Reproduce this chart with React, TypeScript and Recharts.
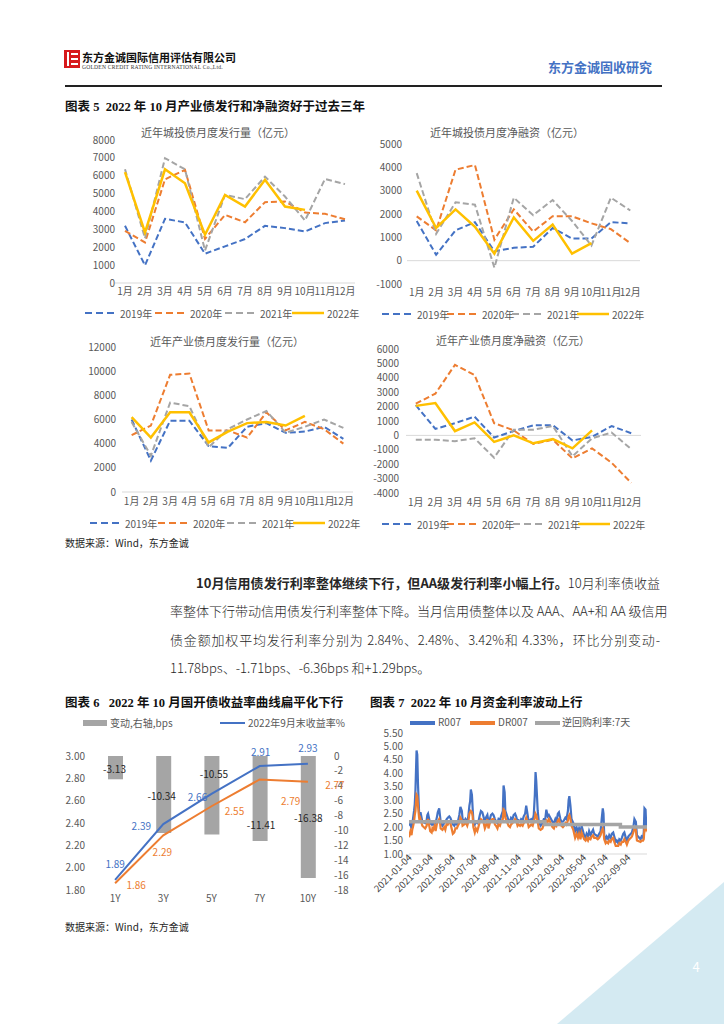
import React from 'react';
import { LineChart, Line, XAxis, YAxis, ReferenceLine, ComposedChart, Bar, LabelList } from 'recharts';

const MONTHS = ['1月', '2月', '3月', '4月', '5月', '6月', '7月', '8月', '9月', '10月', '11月', '12月'];
const YEARS = ['2019年', '2020年', '2021年', '2022年'];

const ctIssue2019 = [3200, 990, 3590, 3390, 1640, 2050, 2460, 3200, 3070, 2880, 3350, 3500];
const ctIssue2020 = [2920, 2270, 5800, 6330, 2470, 3810, 3400, 4520, 4560, 3940, 3870, 3570];
const ctIssue2021 = [6360, 2500, 6980, 6360, 1820, 4930, 4690, 5950, 4840, 3500, 5820, 5530];
const ctIssue2022 = [6200, 2830, 6360, 5580, 2700, 4930, 4280, 5770, 4280, 4090];

const ctNet2019 = [1700, 250, 1300, 1650, 400, 550, 600, 1400, 950, 950, 1650, 1600];
const ctNet2020 = [1900, 1300, 3900, 4100, 900, 2200, 1250, 1900, 1900, 1600, 1350, 750];
const ctNet2021 = [3750, 1150, 2500, 2400, -300, 2700, 1950, 2600, 1700, 650, 2700, 2150];
const ctNet2022 = [3000, 1400, 2200, 1450, 300, 1850, 850, 1550, 300, 750];

const indIssue2019 = [6000, 2600, 5900, 5900, 3800, 3650, 5400, 5700, 4900, 5000, 5400, 4400];
const indIssue2020 = [4700, 5500, 9700, 9800, 5100, 5100, 4500, 6600, 5100, 5800, 5200, 4000];
const indIssue2021 = [5800, 3000, 7400, 7100, 3700, 5200, 6000, 6700, 4900, 5400, 6000, 5300];
const indIssue2022 = [6200, 4500, 6600, 6600, 4100, 5000, 5700, 5800, 5500, 6300];

const indNet2019 = [2100, 450, 850, 1300, -150, 300, 700, 700, -350, -100, 650, 150];
const indNet2020 = [2200, 2900, 4900, 4200, 850, 350, -600, -300, -1600, -900, -1900, -3300];
const indNet2021 = [-300, -300, -400, -200, -1550, 400, 400, 650, -1450, -200, 200, -950];
const indNet2022 = [2050, 2250, 300, 900, -450, 0, -550, -250, -900, 350];

const TENORS = ['1Y', '3Y', '5Y', '7Y', '10Y'];
const yieldSep = [1.89, 2.39, 2.66, 2.91, 2.93];
const yieldOct = [1.86, 2.29, 2.55, 2.79, 2.77];
const changeBps = [-3.13, -10.34, -10.55, -11.41, -16.38];

const fundDates = [
  '2021-01-04', '2021-01-06', '2021-01-08', '2021-01-11', '2021-01-13', '2021-01-15', '2021-01-18', '2021-01-20', '2021-01-22', '2021-01-25',
  '2021-01-27', '2021-01-29', '2021-02-01', '2021-02-03', '2021-02-05', '2021-02-08', '2021-02-10', '2021-02-18', '2021-02-22', '2021-02-24',
  '2021-02-26', '2021-03-02', '2021-03-04', '2021-03-08', '2021-03-10', '2021-03-12', '2021-03-16', '2021-03-19', '2021-03-23', '2021-03-25',
  '2021-03-29', '2021-03-31', '2021-04-02', '2021-04-07', '2021-04-12', '2021-04-15', '2021-04-19', '2021-04-22', '2021-04-26', '2021-04-29',
  '2021-05-06', '2021-05-10', '2021-05-13', '2021-05-17', '2021-05-20', '2021-05-24', '2021-05-27', '2021-05-31', '2021-06-02', '2021-06-07',
  '2021-06-10', '2021-06-15', '2021-06-18', '2021-06-21', '2021-06-23', '2021-06-25', '2021-06-28', '2021-06-30', '2021-07-02', '2021-07-06',
  '2021-07-09', '2021-07-13', '2021-07-16', '2021-07-20', '2021-07-23', '2021-07-27', '2021-07-30', '2021-08-03', '2021-08-06', '2021-08-10',
  '2021-08-13', '2021-08-17', '2021-08-20', '2021-08-24', '2021-08-27', '2021-08-31', '2021-09-03', '2021-09-07', '2021-09-10', '2021-09-14',
  '2021-09-17', '2021-09-22', '2021-09-24', '2021-09-27', '2021-09-29', '2021-10-08', '2021-10-12', '2021-10-15', '2021-10-19', '2021-10-22',
  '2021-10-26', '2021-10-29', '2021-11-02', '2021-11-05', '2021-11-09', '2021-11-12', '2021-11-16', '2021-11-19', '2021-11-23', '2021-11-26',
  '2021-11-30', '2021-12-03', '2021-12-07', '2021-12-10', '2021-12-14', '2021-12-17', '2021-12-20', '2021-12-22', '2021-12-24', '2021-12-28',
  '2021-12-31', '2022-01-05', '2022-01-10', '2022-01-14', '2022-01-18', '2022-01-21', '2022-01-25', '2022-01-28', '2022-02-07', '2022-02-11',
  '2022-02-15', '2022-02-18', '2022-02-22', '2022-02-25', '2022-03-01', '2022-03-04', '2022-03-08', '2022-03-11', '2022-03-15', '2022-03-18',
  '2022-03-22', '2022-03-24', '2022-03-26', '2022-03-29', '2022-04-01', '2022-04-06', '2022-04-11', '2022-04-15', '2022-04-19', '2022-04-22',
  '2022-04-26', '2022-04-29', '2022-05-06', '2022-05-10', '2022-05-13', '2022-05-17', '2022-05-20', '2022-05-24', '2022-05-27', '2022-05-31',
  '2022-06-03', '2022-06-08', '2022-06-13', '2022-06-17', '2022-06-21', '2022-06-24', '2022-06-27', '2022-06-29', '2022-07-01', '2022-07-05',
  '2022-07-08', '2022-07-12', '2022-07-15', '2022-07-19', '2022-07-22', '2022-07-26', '2022-07-29', '2022-08-02', '2022-08-05', '2022-08-09',
  '2022-08-12', '2022-08-16', '2022-08-19', '2022-08-23', '2022-08-26', '2022-08-30', '2022-09-02', '2022-09-06', '2022-09-09', '2022-09-13',
  '2022-09-16', '2022-09-20', '2022-09-23', '2022-09-27', '2022-09-30', '2022-10-10', '2022-10-13', '2022-10-17', '2022-10-19', '2022-10-21',
  '2022-10-24', '2022-10-26', '2022-10-28',
];
const r007 = [
  2.05, 2.2, 2.1, 1.95, 2.1, 2.3, 2.6, 2.85, 3.4, 4.85,
  4.7, 3.6, 2.55, 2.45, 2.55, 2.35, 2.2, 2.15, 2.25, 2.45,
  2.5, 2.25, 2.15, 2.1, 2.15, 2.1, 2.2, 2.15, 2.4, 2.55,
  2.7, 2.45, 2.2, 2.05, 2.15, 2.2, 2.3, 2.35, 2.4, 2.35,
  2.1, 2.05, 2.15, 2.1, 2.2, 2.45, 2.75, 2.6, 2.3, 2.2,
  2.3, 2.2, 2.4, 2.8, 2.95, 3.4, 3.2, 2.7, 2.25, 2.1,
  2.2, 2.15, 2.2, 2.45, 2.6, 2.55, 2.4, 2.15, 2.35, 2.45,
  2.2, 2.3, 2.45, 2.5, 2.45, 2.3, 2.2, 2.15, 2.3, 2.25,
  2.4, 2.6, 3.55, 3.3, 2.6, 2.25, 2.2, 2.35, 2.3, 2.45,
  2.5, 2.4, 2.2, 2.25, 2.2, 2.3, 2.25, 2.4, 2.5, 2.8,
  2.45, 2.2, 2.25, 2.3, 2.25, 2.45, 3.2, 4.05, 3.7, 2.6,
  2.2, 2.05, 2.15, 2.3, 2.3, 2.65, 2.4, 2.45, 2.2, 2.15,
  2.3, 2.2, 2.5, 2.55, 2.3, 2.2, 2.2, 2.25, 2.35, 2.3,
  2.6, 3.0, 3.15, 2.8, 2.3, 2.15, 1.85, 2.0, 1.8, 1.95,
  1.75, 2.05, 1.7, 1.6, 1.75, 1.65, 1.85, 1.7, 1.8, 1.9,
  1.75, 1.7, 1.65, 1.75, 1.85, 2.3, 2.7, 2.5, 1.7, 1.55,
  1.65, 1.55, 1.7, 1.6, 1.75, 1.8, 1.65, 1.45, 1.5, 1.4,
  1.55, 1.5, 1.6, 1.75, 1.8, 1.6, 1.5, 1.65, 1.7, 1.75,
  1.8, 2.0, 2.3, 2.2, 1.7, 1.55, 1.65, 1.6, 1.8, 2.7,
  2.65, 2.0, 2.05,
];
const dr007 = [
  1.62, 1.75, 1.85, 1.7, 1.9, 2.0, 2.2, 2.45, 2.6, 3.2,
  3.15, 2.8, 2.35, 2.2, 2.3, 2.15, 2.05, 1.95, 2.05, 2.2,
  2.3, 2.0, 1.85, 1.8, 1.95, 1.9, 2.05, 1.85, 2.15, 2.2,
  2.3, 2.2, 1.95, 1.9, 2.0, 1.9, 2.15, 2.1, 2.2, 2.15,
  1.75, 1.8, 1.95, 1.95, 2.05, 2.15, 2.35, 2.25, 2.05, 2.1,
  2.2, 2.05, 2.2, 2.5, 2.55, 2.6, 2.55, 2.4, 2.0, 1.8,
  1.95, 1.85, 2.0, 2.2, 2.3, 2.25, 2.2, 1.95, 2.05, 2.3,
  1.95, 2.15, 2.25, 2.3, 2.3, 2.1, 2.05, 1.95, 2.1, 2.05,
  2.2, 2.3, 2.65, 2.6, 2.35, 2.05, 2.0, 2.1, 2.15, 2.2,
  2.3, 2.25, 2.05, 2.1, 2.05, 2.1, 2.05, 2.15, 2.2, 2.35,
  2.2, 2.0, 2.05, 2.1, 2.05, 2.2, 2.35, 2.5, 2.45, 2.2,
  1.95, 1.9, 1.95, 2.1, 2.15, 2.25, 2.2, 2.3, 2.0, 1.95,
  2.1, 2.05, 2.25, 2.3, 2.1, 2.05, 2.0, 2.05, 2.15, 2.1,
  2.25, 2.4, 2.45, 2.3, 2.05, 1.9, 1.6, 1.75, 1.6, 1.75,
  1.55, 1.8, 1.55, 1.5, 1.6, 1.5, 1.6, 1.55, 1.65, 1.7,
  1.6, 1.6, 1.55, 1.6, 1.7, 1.85, 1.95, 1.85, 1.55, 1.4,
  1.45, 1.4, 1.5, 1.45, 1.55, 1.6, 1.45, 1.3, 1.3, 1.3,
  1.4, 1.35, 1.45, 1.45, 1.55, 1.45, 1.35, 1.5, 1.55, 1.6,
  1.65, 1.8, 1.95, 1.9, 1.5, 1.45, 1.5, 1.5, 1.55, 1.95,
  2.0, 1.9, 1.95,
];
const repoDates = ['2021-01-04', '2022-01-17', '2022-08-15', '2022-10-28'];
const repoRates = [2.2, 2.1, 2.0, 2.0];
const fundTickDates = ['2021-01-04', '2021-03-04', '2021-05-04', '2021-07-04', '2021-09-04', '2021-11-04', '2022-01-04', '2022-03-04', '2022-05-04', '2022-07-04', '2022-09-04'];

const BLUE = '#4472c4';
const ORANGE = '#ed7d31';
const GRAY = '#a5a5a5';
const YELLOW = '#ffc000';
const AXIS_TXT = '#595959';
const FONT = '"Noto Sans CJK SC", "Noto Sans", sans-serif';

function monthData(a: number[], b: number[], c: number[], d: number[]) {
  return MONTHS.map((m, i) => ({ m, y2019: a[i], y2020: b[i], y2021: c[i], y2022: d[i] }));
}

type Rect = { l: number; r: number; t: number; b: number };

function MonthChart(props: { rect: Rect; domain: [number, number]; ticks: number[]; data: any[]; gapX: number; gapY: number }) {
  const { rect, domain, ticks, data, gapX, gapY } = props;
  const YW = 50, XH = 22, MT = 8, MR = 22;
  const left = rect.l - YW;
  const top = rect.t - MT;
  const width = rect.r + MR - left;
  const height = rect.b + XH - top;
  const half = (rect.r - rect.l) / MONTHS.length / 2;
  const tickStyle = { fontSize: 10, fill: AXIS_TXT, fontFamily: FONT };
  return (
    <div style={{ position: 'absolute', left, top }}>
      <LineChart width={width} height={height} data={data} margin={{ top: MT, right: MR, bottom: 0, left: 0 }}>
        <XAxis dataKey="m" height={XH} padding={{ left: half, right: half }} axisLine={false} tickLine={false} tickSize={0} tickMargin={gapY} interval={0} tick={tickStyle} />
        <YAxis width={YW} domain={domain} ticks={ticks} axisLine={false} tickLine={false} tickSize={0} tickMargin={gapX} interval={0} tick={tickStyle} />
        <ReferenceLine y={0} stroke="#d9d9d9" strokeWidth={1} />
        <Line dataKey="y2019" stroke={BLUE} strokeWidth={2} strokeDasharray="6 3" dot={false} isAnimationActive={false} />
        <Line dataKey="y2020" stroke={ORANGE} strokeWidth={2} strokeDasharray="6 3" dot={false} isAnimationActive={false} />
        <Line dataKey="y2021" stroke={GRAY} strokeWidth={2} strokeDasharray="6 3" dot={false} isAnimationActive={false} />
        <Line dataKey="y2022" stroke={YELLOW} strokeWidth={2.5} dot={false} isAnimationActive={false} />
      </LineChart>
    </div>
  );
}

function YearLegend(props: { xs: number[]; y: number }) {
  const colors = [BLUE, ORANGE, GRAY, YELLOW];
  return (
    <>
      {YEARS.map((name, i) => (
        <div key={name} style={{ position: 'absolute', left: props.xs[i], top: props.y - 7, height: 14, display: 'flex', alignItems: 'center', whiteSpace: 'nowrap' }}>
          <svg width={32} height={6} style={{ display: 'block' }}>
            <line x1={0} y1={3} x2={32} y2={3} stroke={colors[i]} strokeWidth={i === 3 ? 2.5 : 2} strokeDasharray={i === 3 ? undefined : '7 4'} />
          </svg>
          <span style={{ marginLeft: 3, fontSize: 10, color: AXIS_TXT, fontFamily: FONT }}>{name}</span>
        </div>
      ))}
    </>
  );
}

function ChartTitle(props: { text: string; cx: number; cy: number }) {
  return (
    <div style={{ position: 'absolute', left: props.cx - 100, width: 200, top: props.cy - 8, lineHeight: '16px', textAlign: 'center', fontSize: 11, color: AXIS_TXT, fontFamily: FONT, whiteSpace: 'nowrap' }}>
      {props.text}
    </div>
  );
}

const barLabelOffset = [[-1, 1], [-2, 1], [2, -22], [1, 26], [0, 1]];
const sepLabelOffset = [[0, -16], [-22, 1], [-14, 3], [1, -15], [0, -16]];
const octLabelOffset = [[21, 1], [-1, 16], [23, 4], [31, 21], [27, 3]];

function makeLineLabel(color: string, offsets: number[][]) {
  return (p: any) => {
    const o = offsets[p.index] || [0, 0];
    return (
      <text x={p.x + o[0]} y={p.y + o[1]} textAnchor="middle" dominantBaseline="central" fontSize={10} fill={color} fontFamily={FONT}>
        {Number(p.value).toFixed(2)}
      </text>
    );
  };
}

const barLabel = (p: any) => {
  const o = barLabelOffset[p.index] || [0, 0];
  const cx = p.x + p.width / 2;
  const cy = p.y + p.height / 2;
  return (
    <text x={cx + o[0]} y={cy + o[1]} textAnchor="middle" dominantBaseline="central" fontSize={10} fill="#262626" fontFamily={FONT}>
      {Number(p.value).toFixed(2)}
    </text>
  );
};

function CurveChart() {
  const rect = { l: 91, r: 332, t: 756, b: 890 };
  const LW = 40, RW = 36, XH = 22, MT = 22;
  const left = rect.l - LW;
  const top = rect.t - MT;
  const width = rect.r + RW - left;
  const height = rect.b + XH - top;
  const data = TENORS.map((t, i) => ({ t, sep: yieldSep[i], oct: yieldOct[i], chg: changeBps[i] }));
  const tickStyle = { fontSize: 10, fill: AXIS_TXT, fontFamily: FONT };
  return (
    <div style={{ position: 'absolute', left, top }}>
      <ComposedChart width={width} height={height} data={data} margin={{ top: MT, right: 0, bottom: 0, left: 0 }}>
        <XAxis dataKey="t" height={XH} axisLine={false} tickLine={false} tickSize={0} tickMargin={5} interval={0} tick={tickStyle} />
        <YAxis yAxisId="left" width={LW} domain={[1.8, 3.0]} ticks={[1.8, 2.0, 2.2, 2.4, 2.6, 2.8, 3.0]} tickFormatter={(v: number) => v.toFixed(2)} axisLine={false} tickLine={false} tickSize={0} tickMargin={6} interval={0} tick={tickStyle} />
        <YAxis yAxisId="right" orientation="right" width={RW} domain={[-18, 0]} ticks={[0, -2, -4, -6, -8, -10, -12, -14, -16, -18]} axisLine={false} tickLine={false} tickSize={0} tickMargin={2} interval={0} tick={tickStyle} />
        <Bar yAxisId="right" dataKey="chg" fill={GRAY} barSize={15} isAnimationActive={false}>
          <LabelList dataKey="chg" content={barLabel} />
        </Bar>
        <Line yAxisId="left" dataKey="sep" stroke={BLUE} strokeWidth={2} dot={false} isAnimationActive={false}>
          <LabelList dataKey="sep" content={makeLineLabel(BLUE, sepLabelOffset)} />
        </Line>
        <Line yAxisId="left" dataKey="oct" stroke={ORANGE} strokeWidth={2} dot={false} isAnimationActive={false}>
          <LabelList dataKey="oct" content={makeLineLabel(ORANGE, octLabelOffset)} />
        </Line>
      </ComposedChart>
    </div>
  );
}

const DateTick = (p: any) => {
  const { x, y, payload } = p;
  const s = new Date(payload.value).toISOString().slice(0, 10);
  return (
    <text x={x} y={y} dx={3} dy={2} textAnchor="end" fontSize={9.5} fill="#404040" fontFamily={FONT} transform={`rotate(-45 ${x} ${y})`}>
      {s}
    </text>
  );
};

function FundChart() {
  const rect = { l: 409, r: 647, t: 733, b: 854 };
  const YW = 42, XH = 62, MT = 10, MR = 6;
  const left = rect.l - YW;
  const top = rect.t - MT;
  const width = rect.r + MR - left;
  const height = rect.b + XH - top;
  const data = fundDates.map((d, i) => ({ t: Date.parse(d), r: r007[i], dr: dr007[i] }));
  const repo = repoDates.map((d, i) => ({ t: Date.parse(d), repo: repoRates[i] }));
  const ticks = fundTickDates.map((d) => Date.parse(d));
  const domain = [Date.parse(fundDates[0]), Date.parse(fundDates[fundDates.length - 1])];
  const tickStyle = { fontSize: 10, fill: AXIS_TXT, fontFamily: FONT };
  return (
    <div style={{ position: 'absolute', left, top }}>
      <ComposedChart width={width} height={height} data={data} margin={{ top: MT, right: MR, bottom: 0, left: 0 }}>
        <XAxis dataKey="t" type="number" domain={domain} ticks={ticks} height={XH} axisLine={{ stroke: '#d9d9d9' }} tickLine={{ stroke: '#d9d9d9' }} tickSize={3} tickMargin={2} interval={0} tick={<DateTick />} allowDataOverflow />
        <YAxis width={YW} domain={[1, 5.5]} ticks={[1, 1.5, 2, 2.5, 3, 3.5, 4, 4.5, 5, 5.5]} tickFormatter={(v: number) => v.toFixed(2)} axisLine={false} tickLine={false} tickSize={0} tickMargin={6} interval={0} tick={tickStyle} />
        <Line dataKey="r" stroke={BLUE} strokeWidth={2.2} dot={false} isAnimationActive={false} />
        <Line dataKey="dr" stroke={ORANGE} strokeWidth={2.2} dot={false} isAnimationActive={false} />
        <Line data={repo} dataKey="repo" type="stepAfter" stroke={GRAY} strokeWidth={3.5} dot={false} isAnimationActive={false} />
      </ComposedChart>
    </div>
  );
}

function FigTitle(props: { text: string; x: number; y: number }) {
  return (
    <div style={{ position: 'absolute', left: props.x, top: props.y - 9, lineHeight: '18px', fontSize: 12.5, fontWeight: 700, color: '#111', fontFamily: '"Liberation Serif", "Noto Sans CJK SC", serif', whiteSpace: 'pre' }}>
      {props.text}
    </div>
  );
}

function Source(props: { y: number }) {
  return (
    <div style={{ position: 'absolute', left: 65, top: props.y - 8, lineHeight: '16px', fontSize: 10, color: '#262626', fontFamily: FONT }}>
      数据来源：Wind，东方金诚
    </div>
  );
}

export default function App() {
  const paraStyle: React.CSSProperties = { position: 'absolute', lineHeight: '18px', fontSize: 13, fontWeight: 300, color: '#262626', fontFamily: FONT, whiteSpace: 'nowrap' };
  return (
    <div style={{ position: 'absolute', left: 0, top: 0, width: 724, height: 1024, overflow: 'hidden', background: '#fff', fontFamily: FONT }}>
      {/* header */}
      <svg style={{ position: 'absolute', left: 64, top: 50 }} width={17} height={19}>
        <rect x={0} y={0} width={16} height={18} fill="#d7191c" />
        <rect x={3} y={2} width={2} height={14} fill="#fff" />
        <rect x={7} y={3} width={7} height={2} fill="#fff" />
        <rect x={7} y={8} width={7} height={2} fill="#fff" />
        <rect x={7} y={13} width={7} height={2} fill="#fff" />
      </svg>
      <div style={{ position: 'absolute', left: 82, top: 50, lineHeight: '14px', fontSize: 11, fontWeight: 700, color: '#111', letterSpacing: 0, whiteSpace: 'nowrap' }}>东方金诚国际信用评估有限公司</div>
      <div style={{ position: 'absolute', left: 82, top: 64, lineHeight: '7px', fontSize: 5.6, color: '#333', fontFamily: '"Liberation Serif", serif', whiteSpace: 'nowrap', letterSpacing: 0.2 }}>GOLDEN CREDIT RATING INTERNATIONAL Co.,Ltd.</div>
      <div style={{ position: 'absolute', left: 548, top: 58, lineHeight: '18px', fontSize: 13, fontWeight: 700, color: BLUE, whiteSpace: 'nowrap' }}>东方金诚固收研究</div>
      <div style={{ position: 'absolute', left: 65, top: 85, width: 597, height: 1.5, background: '#222' }} />

      <FigTitle text={'图表 5  2022 年 10 月产业债发行和净融资好于过去三年'} x={65} y={107} />

      <ChartTitle text="近年城投债月度发行量（亿元）" cx={218} cy={132} />
      <MonthChart rect={{ l: 115, r: 355, t: 140, b: 283 }} domain={[0, 8000]} ticks={[0, 1000, 2000, 3000, 4000, 5000, 6000, 7000, 8000]} data={monthData(ctIssue2019, ctIssue2020, ctIssue2021, ctIssue2022)} gapX={0} gapY={5} />
      <YearLegend xs={[85, 155, 225, 292]} y={313} />

      <ChartTitle text="近年城投债月度净融资（亿元）" cx={507} cy={132} />
      <MonthChart rect={{ l: 407, r: 640, t: 144, b: 284 }} domain={[-1000, 5000]} ticks={[-1000, 0, 1000, 2000, 3000, 4000, 5000]} data={monthData(ctNet2019, ctNet2020, ctNet2021, ctNet2022)} gapX={5} gapY={5} />
      <YearLegend xs={[382, 447, 512, 577]} y={314} />

      <ChartTitle text="近年产业债月度发行量（亿元）" cx={227} cy={341} />
      <MonthChart rect={{ l: 122, r: 353, t: 347, b: 492 }} domain={[0, 12000]} ticks={[0, 2000, 4000, 6000, 8000, 10000, 12000]} data={monthData(indIssue2019, indIssue2020, indIssue2021, indIssue2022)} gapX={6} gapY={6} />
      <YearLegend xs={[90, 158, 227, 293]} y={523} />

      <ChartTitle text="近年产业债月度净融资（亿元）" cx={513} cy={340} />
      <MonthChart rect={{ l: 406, r: 641, t: 349, b: 493 }} domain={[-4000, 6000]} ticks={[-4000, -3000, -2000, -1000, 0, 1000, 2000, 3000, 4000, 5000, 6000]} data={monthData(indNet2019, indNet2020, indNet2021, indNet2022)} gapX={7} gapY={6} />
      <YearLegend xs={[382, 447, 513, 578]} y={524} />

      <Source y={543} />

      {/* paragraph */}
      <div style={{ ...paraStyle, left: 196, width: 464, top: 574, textAlign: 'justify', textAlignLast: 'justify' }}>
        <b style={{ fontWeight: 700 }}>10月信用债发行利率整体继续下行，但AA级发行利率小幅上行。</b>10月利率债收益
      </div>
      <div style={{ ...paraStyle, left: 170, width: 490, top: 602, textAlign: 'justify', textAlignLast: 'justify' }}>
        率整体下行带动信用债发行利率整体下降。当月信用债整体以及 AAA、AA+和 AA 级信用
      </div>
      <div style={{ ...paraStyle, left: 170, width: 490, top: 631, textAlign: 'justify', textAlignLast: 'justify' }}>
        债金额加权平均发行利率分别为 2.84%、2.48%、3.42%和 4.33%，环比分别变动-
      </div>
      <div style={{ ...paraStyle, left: 170, top: 659 }}>
        11.78bps、-1.71bps、-6.36bps 和+1.29bps。
      </div>

      {/* figure 6 */}
      <FigTitle text={'图表 6   2022 年 10 月国开债收益率曲线扁平化下行'} x={65} y={703} />
      <div style={{ position: 'absolute', left: 83, top: 720, width: 24, height: 6, background: GRAY }} />
      <div style={{ position: 'absolute', left: 110, top: 716, lineHeight: '14px', fontSize: 10, color: AXIS_TXT, whiteSpace: 'nowrap' }}>变动,右轴,bps</div>
      <div style={{ position: 'absolute', left: 220, top: 722, width: 25, height: 2, background: BLUE }} />
      <div style={{ position: 'absolute', left: 248, top: 716, lineHeight: '14px', fontSize: 10, color: AXIS_TXT, whiteSpace: 'nowrap' }}>2022年9月末收益率%</div>
      <CurveChart />
      <Source y={927} />

      {/* figure 7 */}
      <FigTitle text={'图表 7  2022 年 10 月资金利率波动上行'} x={370} y={703} />
      <div style={{ position: 'absolute', left: 410, top: 721, width: 25, height: 3.5, background: BLUE }} />
      <div style={{ position: 'absolute', left: 438, top: 715, lineHeight: '14px', fontSize: 10, color: AXIS_TXT, whiteSpace: 'nowrap' }}>R007</div>
      <div style={{ position: 'absolute', left: 470, top: 721, width: 25, height: 3.5, background: ORANGE }} />
      <div style={{ position: 'absolute', left: 498, top: 715, lineHeight: '14px', fontSize: 10, color: AXIS_TXT, whiteSpace: 'nowrap' }}>DR007</div>
      <div style={{ position: 'absolute', left: 535, top: 721, width: 25, height: 3.5, background: GRAY }} />
      <div style={{ position: 'absolute', left: 562, top: 715, lineHeight: '14px', fontSize: 10, color: AXIS_TXT, whiteSpace: 'nowrap' }}>逆回购利率:7天</div>
      <FundChart />

      {/* page corner */}
      <svg style={{ position: 'absolute', left: 0, top: 0 }} width={724} height={1024}>
        <polygon points="724,882 724,1024 557,1024" fill="#d4eaf2" />
        <text x={696} y={972} textAnchor="middle" fontSize={13} fill="#fff" fontFamily={FONT}>4</text>
      </svg>
    </div>
  );
}
